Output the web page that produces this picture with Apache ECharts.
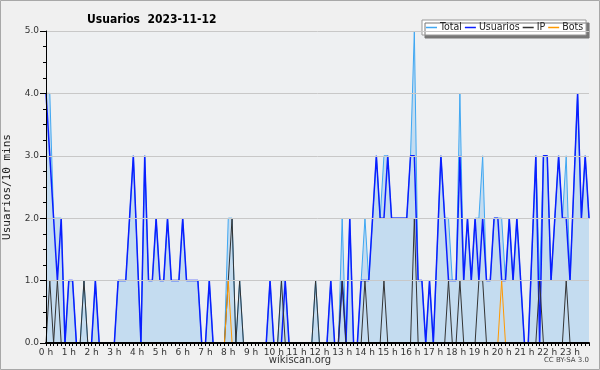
<!DOCTYPE html>
<html lang="es">
<head>
<meta charset="UTF-8" />
<title>Usuarios 2023-11-12</title>
<script src="https://cdn.jsdelivr.net/npm/echarts@6/dist/echarts.min.js"></script>
<style>html, body { margin: 0; padding: 0; background: #f0f0f0; }</style>
</head>
<body>
<div id="chart" style="width: 600px; height: 370px"></div>
<script>
// una fila = una hora, 6 valores de 10 minutos
const hourLabels = ['0 h', '1 h', '2 h', '3 h', '4 h', '5 h', '6 h', '7 h', '8 h', '9 h', '10 h', '11 h',
    '12 h', '13 h', '14 h', '15 h', '16 h', '17 h', '18 h', '19 h', '20 h', '21 h', '22 h', '23 h'];

const total = [
    4, 4, 2, 2, 2, 0,
    1, 1, 0, 0, 1, 0,
    0, 1, 0, 0, 0, 0,
    0, 1, 1, 1, 2, 3,
    1.5, 0, 3, 1, 1, 2,
    1, 1, 2, 1, 1, 1,
    2, 1, 1, 1, 1, 0,
    0, 1, 0, 0, 0, 0,
    2, 2, 0, 1, 0, 0,
    0, 0, 0, 0, 0, 1,
    0, 0, 1, 1, 0, 0,
    0, 0, 0, 0, 0, 1,
    0, 0, 0, 1, 0, 0,
    2, 0, 2, 0, 0, 1,
    2, 1, 2, 3, 2, 3,
    3, 2, 2, 2, 2, 2,
    3, 5, 1, 1, 0, 1,
    0, 1.5, 3, 2, 2, 1,
    1, 4, 1, 2, 1, 2,
    2, 3, 1, 1, 2, 2,
    2, 1, 2, 1, 2, 1,
    0, 0, 1.5, 3, 1, 3,
    3, 1, 2, 3, 2, 3,
    1, 2.5, 4, 2, 3, 2
];

const usuarios = [
    4, 3, 2, 1, 2, 0,
    1, 1, 0, 0, 0, 0,
    0, 1, 0, 0, 0, 0,
    0, 1, 1, 1, 2, 3,
    1.5, 0, 3, 1, 1, 2,
    1, 1, 2, 1, 1, 1,
    2, 1, 1, 1, 1, 0,
    0, 1, 0, 0, 0, 0,
    0, 0, 0, 0, 0, 0,
    0, 0, 0, 0, 0, 1,
    0, 0, 0, 1, 0, 0,
    0, 0, 0, 0, 0, 0,
    0, 0, 0, 1, 0, 0,
    1, 0, 2, 0, 0, 1,
    1, 1, 2, 3, 2, 2,
    3, 2, 2, 2, 2, 2,
    3, 3, 1, 1, 0, 1,
    0, 1.5, 3, 2, 1, 1,
    1, 3, 1, 2, 1, 2,
    1, 2, 1, 1, 2, 2,
    1, 1, 2, 1, 2, 1,
    0, 0, 1.5, 3, 0, 3,
    3, 1, 2, 3, 2, 2,
    1, 2.5, 4, 2, 3, 2
];

const ip = [
    0, 1, 0, 1, 0, 0,
    0, 0, 0, 0, 1, 0,
    0, 0, 0, 0, 0, 0,
    0, 0, 0, 0, 0, 0,
    0, 0, 0, 0, 0, 0,
    0, 0, 0, 0, 0, 0,
    0, 0, 0, 0, 0, 0,
    0, 0, 0, 0, 0, 0,
    1, 2, 0, 1, 0, 0,
    0, 0, 0, 0, 0, 0,
    0, 0, 1, 0, 0, 0,
    0, 0, 0, 0, 0, 1,
    0, 0, 0, 0, 0, 0,
    1, 0, 0, 0, 0, 0,
    1, 0, 0, 0, 0, 1,
    0, 0, 0, 0, 0, 0,
    0, 2, 0, 0, 0, 0,
    0, 0, 0, 0, 1, 0,
    0, 1, 0, 0, 0, 0,
    1, 1, 0, 0, 0, 0,
    0, 0, 0, 0, 0, 0,
    0, 0, 0, 0, 1, 0,
    0, 0, 0, 0, 0, 1,
    0, 0, 0, 0, 0, 0
];

const bots = [
    0, 0, 0, 0, 0, 0,
    0, 0, 0, 0, 0, 0,
    0, 0, 0, 0, 0, 0,
    0, 0, 0, 0, 0, 0,
    0, 0, 0, 0, 0, 0,
    0, 0, 0, 0, 0, 0,
    0, 0, 0, 0, 0, 0,
    0, 0, 0, 0, 0, 0,
    1, 0, 0, 0, 0, 0,
    0, 0, 0, 0, 0, 0,
    0, 0, 0, 0, 0, 0,
    0, 0, 0, 0, 0, 0,
    0, 0, 0, 0, 0, 0,
    0, 0, 0, 0, 0, 0,
    0, 0, 0, 0, 0, 0,
    0, 0, 0, 0, 0, 0,
    0, 0, 0, 0, 0, 0,
    0, 0, 0, 0, 0, 0,
    0, 0, 0, 0, 0, 0,
    0, 0, 0, 0, 0, 0,
    1, 0, 0, 0, 0, 0,
    0, 0, 0, 0, 0, 0,
    0, 0, 0, 0, 0, 0,
    0, 0, 0, 0, 0, 0
];

// eje x: un punto cada 10 minutos, etiqueta solo en la hora
const categories = [];
hourLabels.forEach(h => {
    for (let m = 0; m < 6; m++) categories.push(m === 0 ? h : '');
});

const chart = echarts.init(document.getElementById('chart'));

function lineSerie(name, data, color, width, extra) {
    return Object.assign({
        name: name,
        type: 'line',
        data: data,
        symbol: 'none',
        color: color,
        lineStyle: { color: color, width: width },
        emphasis: { disabled: true }
    }, extra || {});
}

chart.setOption({
    animation: false,
    backgroundColor: '#f0f0f0',
    textStyle: { fontFamily: 'DejaVu Sans' },
    title: {
        text: 'Usuarios  2023-11-12',
        left: 82,
        top: 9,
        textStyle: { fontFamily: '"DejaVu Sans Condensed", "DejaVu Sans"', fontWeight: 'bold', fontSize: 12, color: '#000' }
    },
    legend: {
        left: 422,
        top: 20,
        padding: [2, 3, 2, 4],
        itemGap: 3,
        itemWidth: 11,
        itemHeight: 1.5,
        icon: 'rect',
        backgroundColor: '#fff',
        borderColor: '#999',
        borderWidth: 1,
        borderRadius: 0,
        shadowColor: '#777',
        shadowOffsetX: 3,
        shadowOffsetY: 3,
        shadowBlur: 0,
        textStyle: { fontFamily: '"DejaVu Sans Condensed", "Liberation Sans"', fontSize: 10.5, color: '#222', padding: [0, 0, 0, -2] },
        data: ['Total', 'Usuarios', 'IP', 'Bots']
    },
    grid: {
        left: 46,
        right: 11,
        top: 31,
        bottom: 27,
        outerBoundsMode: 'none',
        containLabel: false,
        show: true,
        backgroundColor: '#eef0f2',
        borderWidth: 0
    },
    xAxis: {
        type: 'category',
        data: categories,
        boundaryGap: false,
        z: 10,
        axisLine: { lineStyle: { color: '#000', width: 2 } },
        axisTick: { interval: 0, length: 3, lineStyle: { color: '#000' } },
        axisLabel: { interval: 5, fontSize: 9, color: '#333', margin: 5 },
        splitLine: { show: false }
    },
    yAxis: {
        type: 'value',
        min: 0,
        max: 5,
        interval: 1,
        z: 10,
        name: 'Usuarios/10 mins',
        nameLocation: 'middle',
        nameGap: 33,
        nameTextStyle: { fontFamily: 'DejaVu Sans Mono', fontSize: 11, color: '#222' },
        axisLine: { show: true, lineStyle: { color: '#000' } },
        axisTick: { show: true, length: 6, lineStyle: { color: '#000' } },
        minorTick: { show: true, splitNumber: 4, length: 3, lineStyle: { color: '#000' } },
        axisLabel: { formatter: v => v.toFixed(1), fontSize: 9, color: '#333', margin: 7 },
        splitLine: { lineStyle: { color: '#c8c8c8' } }
    },
    series: [
        lineSerie('Total', total, '#3fa7f2', 1, { areaStyle: { color: '#c4dcf0', opacity: 1 }, z: 1 }),
        lineSerie('Usuarios', usuarios, '#0a1eff', 1.5, { z: 2 }),
        lineSerie('IP', ip, '#333333', 1, { z: 3 }),
        lineSerie('Bots', bots, '#ff9900', 1, { z: 4 })
    ],
    graphic: [
        {
            type: 'rect',
            shape: { x: 0.5, y: 0.5, width: 599, height: 369 },
            style: { fill: 'none', stroke: '#a8a8a8', lineWidth: 1 },
            silent: true
        },
        {
            type: 'text',
            left: 'center',
            top: 355,
            style: { text: 'wikiscan.org', fontSize: 10, fill: '#333', fontFamily: 'DejaVu Sans' }
        },
        {
            type: 'text',
            right: 11,
            top: 357,
            style: { text: 'CC BY-SA 3.0', fontSize: 7, fill: '#444', fontFamily: 'DejaVu Sans' }
        }
    ]
});
</script>
</body>
</html>
